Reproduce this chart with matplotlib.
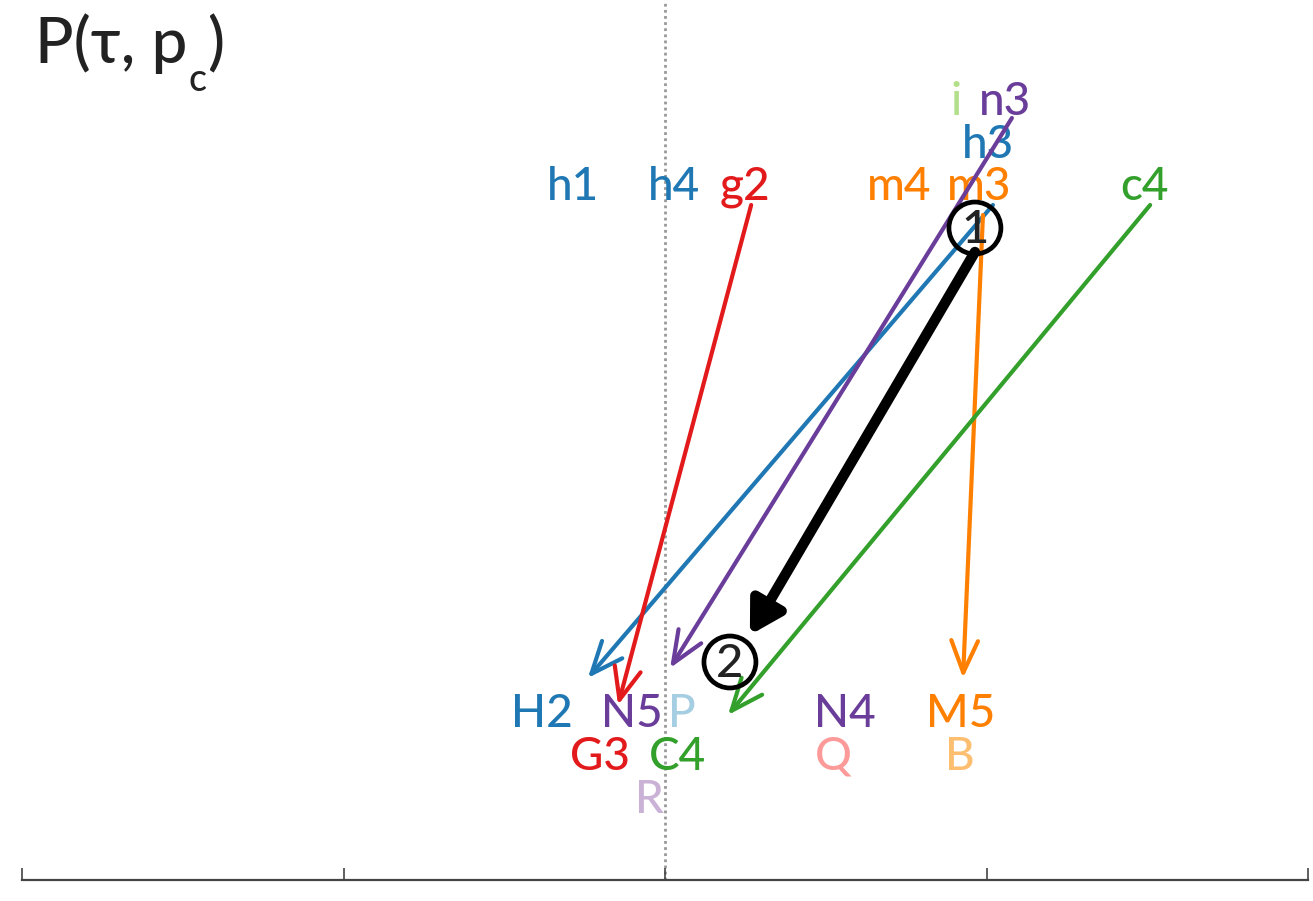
import matplotlib
matplotlib.use('Agg')
import matplotlib.pyplot as plt
from matplotlib.patches import FancyArrowPatch

plt.rcParams['font.family'] = ['Lato', 'DejaVu Sans']
plt.rcParams['font.weight'] = 'medium'

# label text, colour, x (tick units), y (baseline)
top_labels = ['h1', 'h4', 'g2', 'm4', 'm3', 'c4', 'h3', 'i', 'n3']
top_colors = ['#1f78b4', '#1f78b4', '#e31a1c', '#ff7f00', '#ff7f00',
              '#33a02c', '#1f78b4', '#b2df8a', '#6a3d9a']
top_x = [1.714, 2.028, 2.249, 2.728, 2.977, 3.493, 3.005, 2.905, 3.057]
top_y = [6.80, 6.80, 6.80, 6.80, 6.80, 6.80, 7.22, 7.65, 7.65]

bot_labels = ['H2', 'N5', 'P', 'N4', 'M5', 'G3', 'C4', 'Q', 'B', 'R']
bot_colors = ['#1f78b4', '#6a3d9a', '#a6cee3', '#6a3d9a', '#ff7f00',
              '#e31a1c', '#33a02c', '#fb9a99', '#fdbf6f', '#cab2d6']
bot_x = [1.617, 1.897, 2.053, 2.560, 2.918, 1.798, 2.040, 2.523, 2.918, 1.953]
bot_y = [1.53, 1.53, 1.53, 1.53, 1.53, 1.10, 1.10, 1.10, 1.10, 0.67]

# arrows: start -> end
arrow_colors = ['#1f78b4', '#6a3d9a', '#e31a1c', '#ff7f00', '#33a02c']
arrow_start = [(3.020, 6.75), (3.079, 7.62), (2.268, 6.75), (2.989, 6.65), (3.509, 6.75)]
arrow_end = [(1.760, 2.02), (2.016, 2.12), (1.854, 1.75), (2.927, 2.02), (2.196, 1.65)]

main_start = (2.964, 6.28)
main_end = (2.264, 2.45)

circle_labels = ['1', '2']
circle_xy = [(2.964, 6.52), (2.202, 2.18)]

fig = plt.figure(figsize=(13.13, 9.01), dpi=100)
ax = fig.add_axes([22 / 1313, 21 / 901, 1286 / 1313, 880 / 901])
ax.set_xlim(0, 4)
ax.set_ylim(0, 8.8)

for s in ['left', 'top', 'right']:
    ax.spines[s].set_visible(False)
ax.spines['bottom'].set_color('#444444')
ax.spines['bottom'].set_linewidth(1.6)
ax.set_yticks([])
ax.set_xticks([0, 1, 2, 3, 4])
ax.set_xticklabels([])
ax.tick_params(axis='x', direction='in', length=9, width=1.2, color='#444444')

ax.axvline(2, color='#999999', lw=2, ls=(0, (1, 1.2)), zorder=0)

for lab, c, x, y in zip(top_labels, top_colors, top_x, top_y):
    ax.text(x, y, lab, color=c, fontsize=33, ha='center', va='baseline')
for lab, c, x, y in zip(bot_labels, bot_colors, bot_x, bot_y):
    ax.text(x, y, lab, color=c, fontsize=33, ha='center', va='baseline')

for c, p0, p1 in zip(arrow_colors, arrow_start, arrow_end):
    a = FancyArrowPatch(p0, p1, arrowstyle='->,head_length=1.15,head_width=0.48',
                        mutation_scale=20, color=c, lw=3, shrinkA=0, shrinkB=0,
                        capstyle='round', joinstyle='round', zorder=3)
    ax.add_patch(a)

a = FancyArrowPatch(main_start, main_end, arrowstyle='-|>,head_length=0.95,head_width=0.55',
                    mutation_scale=20, color='black', lw=7.5, shrinkA=0, shrinkB=0,
                    capstyle='round', joinstyle='round', zorder=5)
ax.add_patch(a)

for lab, (x, y) in zip(circle_labels, circle_xy):
    ax.scatter([x], [y], s=1400, facecolor='none', edgecolor='black', lw=3.4, zorder=6)
    ax.text(x, y - 0.02, lab, fontsize=34, ha='center', va='center', color='#222222', zorder=7)

t1 = ax.text(0.04, 8.17, 'P(τ, p', fontsize=46, color='#222222', ha='left', va='baseline')
t2 = ax.annotate('c', xy=(1, 0), xycoords=t1, xytext=(1, -12), textcoords='offset points',
                 fontsize=27, color='#222222', ha='left', va='baseline')
ax.annotate(')', xy=(1, 0), xycoords=(t2, t1), xytext=(0, 0), textcoords='offset points',
            fontsize=46, color='#222222', ha='left', va='bottom')

fig.savefig('out.png', dpi=100)
